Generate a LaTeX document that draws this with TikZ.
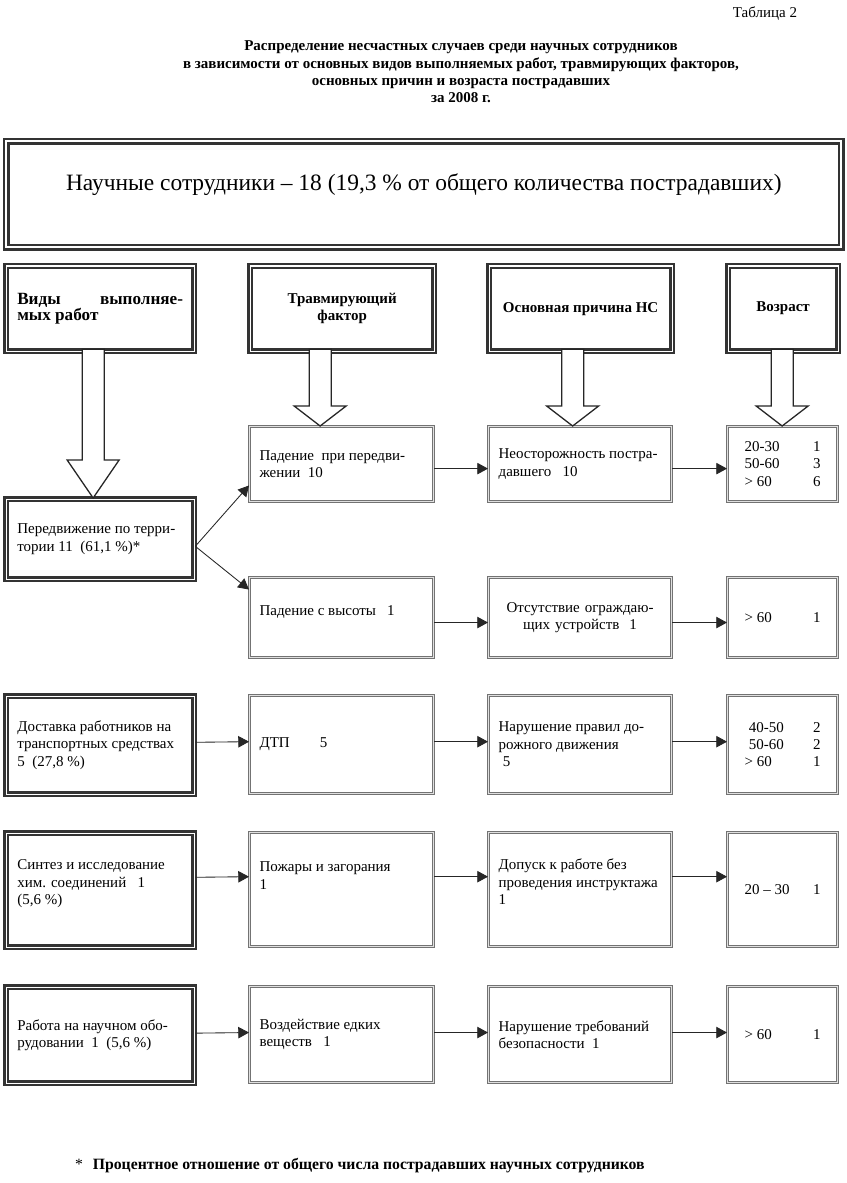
\documentclass[tikz,border=0pt]{standalone}
\usepackage{fontspec}
\setmainfont{Liberation Serif}
\usetikzlibrary{calc, positioning, arrows.meta}

\newcommand{\padbelow}[1]{\rule[-#1]{0pt}{0pt}}
\newcommand{\colfill}{\hspace{\stretch{1}}}
\newcommand{\hollowarrow}[3]{%
  \draw[hollow] (#1) ++(-11,0) -- ++(22,0) -- ($(#1 |- #2.north)+(11,-#3)$)
    -- ++(15,0) -- (#1 |- #2.north) -- ++(-26,-#3) -- ++(15,0) -- cycle;}

\tikzset{
  dims/.style 2 args={minimum width=#1*0.7pt, minimum height=#2*0.7pt},
  heavyframe/.style={draw=black!80, line width=1.6pt, double=white, double distance=0.9pt, fill=white},
  lightframe/.style={draw=black!55, line width=0.75pt, double=black!12, double distance=0.7pt, fill=white},
  boxtext/.style={font=\fontsize{10.5}{12.2}\selectfont, align=flush left, anchor=north west, inner ysep=0pt},
  hdrbox/.style={heavyframe, anchor=north west, font=\bfseries\fontsize{10.5}{12.2}\selectfont,
    align=center, dims={#1}{85}},
  workbox/.style={heavyframe, boxtext, dims={188}{#1}, text width=116pt, inner xsep=7.8pt},
  factbox/.style={lightframe, boxtext, dims={184}{#1}, text width=114.8pt, inner xsep=7pt},
  causebox/.style={lightframe, boxtext, dims={183}{#1}, text width=114pt, inner xsep=7pt},
  agebox/.style={lightframe, boxtext, dims={110}{#1}, text width=53.2pt, inner xsep=11.9pt},
  conn/.style={draw=black!85, line width=0.6pt, -{Triangle[length=7.5pt, width=8pt]}},
  hollow/.style={draw=black!85, line width=0.9pt, fill=white, line join=miter},
}

\begin{document}
\begin{tikzpicture}[x=0.7pt, y=-0.7pt]
  \fill[white] (0,0) rectangle (847,1183);
  \useasboundingbox (0,0) rectangle (847,1183);

  \node[font=\fontsize{10.5}{12}\selectfont] (tabno) at (765,14) {Таблица 2};
  \node[font=\bfseries\fontsize{10.5}{12.2}\selectfont, align=center] (title) at (461,72)
    {Распределение несчастных случаев среди научных сотрудников\\
     в зависимости от основных видов выполняемых работ, травмирующих факторов,\\
     основных причин и возраста пострадавших\\
     за 2008 г.};

  \node[heavyframe, line width=1.8pt, double distance=1.2pt, dims={835}{106}, anchor=north west,
    font=\fontsize{16.4}{19}\selectfont] (top) at (5,140)
    {Научные сотрудники – 18 (19,3~\% от общего количества пострадавших)\padbelow{17pt}};

  \node[hdrbox=188, text width=116pt, inner xsep=7.8pt, align=flush left,
    font=\bfseries\fontsize{12}{11.5}\selectfont] (h1) at (5,265) {Виды\colfill выполняе-\\мых работ};
  \node[hdrbox=184] (h2) at (249,265) {Травмирующий\\фактор};
  \node[hdrbox=183] (h3) at (488,265) {Основная причина НС};
  \node[hdrbox=110] (h4) at (727,265) {Возраст};

  \node[factbox=75] (f1) at (249,426) {Падение\ \ при передви-\\жении\ \ 10};
  \node[causebox=75] (c1) at (488,426) {Неосторожность постра-\\давшего\ \ \ 10};
  \node[agebox=75] (a1) at (727,426)
    {20-30\colfill 1\hspace*{2.5pt}\\50-60\colfill 3\hspace*{2.5pt}\\> 60\colfill 6};

  \node[workbox=80] (w1) at (5,498) {Передвижение по терри-\\тории 11\ \ (61,1~\%)*};
  \node[factbox=80] (f2) at (249,577) {Падение с высоты\ \ \ 1\padbelow{10pt}};
  \node[causebox=80, align=center] (c2) at (488,577) {Отсутствие ограждаю-\\щих устройств\ \ 1};
  \node[agebox=80] (a2) at (727,577) {> 60\colfill 1};

  \node[workbox=98] (w2) at (5,695) {Доставка работников на\\транспортных средствах\\5\ \ (27,8~\%)};
  \node[factbox=98] (f3) at (249,695) {ДТП\qquad 5};
  \node[causebox=98] (c3) at (488,695) {Нарушение правил до-\\рожного движения\\\hspace*{3pt}5};
  \node[agebox=98] (a3) at (727,695)
    {\hspace*{3pt}40-50\colfill 2\\\hspace*{3pt}50-60\colfill 2\\> 60\colfill 1};

  \node[workbox=114] (w3) at (5,832) {Синтез и исследование\\хим. соединений\ \ \ 1\\(5,6~\%)\padbelow{11pt}};
  \node[factbox=114] (f4) at (249,832) {Пожары и загорания\\1\padbelow{19.6pt}};
  \node[causebox=114] (c4) at (488,832) {Допуск к работе без\\проведения инструктажа\\1\padbelow{11pt}};
  \node[agebox=114] (a4) at (727,832) {20 – 30\colfill 1};

  \node[workbox=96] (w4) at (5,986) {Работа на научном обо-\\рудовании\ \ 1\ \ (5,6~\%)};
  \node[factbox=96] (f5) at (249,986) {Воздействие едких\\веществ\ \ \ 1};
  \node[causebox=96] (c5) at (488,986) {Нарушение требований\\безопасности\ \ 1};
  \node[agebox=96] (a5) at (727,986) {> 60\colfill 1};

  \coordinate (s1) at ($(h1.south)+(-7,-3)$);
  \coordinate (s2) at ($(h2.south)+(-22,-3)$);
  \coordinate (s3) at ($(h3.south)+(-8,-3)$);
  \coordinate (s4) at ($(h4.south)+(-1,-3)$);
  \hollowarrow{s1}{w1}{38}
  \hollowarrow{s2}{f1}{20}
  \hollowarrow{s3}{c1}{20}
  \hollowarrow{s4}{a1}{20}

  \draw[conn] ([yshift=-5pt]w1.east) -- ([yshift=-15pt]f1.west);
  \draw[conn] ([yshift=-5pt]w1.east) -- ([yshift=19.6pt]f2.west);
  \draw[conn] ([yshift=-3.2pt]f1.east) -- ([yshift=-3.2pt]c1.west);
  \draw[conn] ([yshift=-3.2pt]c1.east) -- ([yshift=-3.2pt]a1.west);
  \draw[conn] ([yshift=-3.5pt]f2.east) -- ([yshift=-3.5pt]c2.west);
  \draw[conn] ([yshift=-3.5pt]c2.east) -- ([yshift=-3.5pt]a2.west);
  \draw[conn] ([yshift=2pt]w2.east) -- ([yshift=2pt]f3.west);
  \draw[conn] ([yshift=2pt]f3.east) -- ([yshift=2pt]c3.west);
  \draw[conn] ([yshift=2pt]c3.east) -- ([yshift=2pt]a3.west);
  \draw[conn] ([yshift=9pt]w3.east) -- ([yshift=9pt]f4.west);
  \draw[conn] ([yshift=9pt]f4.east) -- ([yshift=9pt]c4.west);
  \draw[conn] ([yshift=9pt]c4.east) -- ([yshift=9pt]a4.west);
  \draw[conn] ([yshift=1.4pt]w4.east) -- ([yshift=1.4pt]f5.west);
  \draw[conn] ([yshift=1.4pt]f5.east) -- ([yshift=1.4pt]c5.west);
  \draw[conn] ([yshift=1.4pt]c5.east) -- ([yshift=1.4pt]a5.west);

  \node[anchor=west, font=\fontsize{11}{13}\selectfont] (note) at (70,1166)
    {*\hspace{7pt}\textbf{Процентное отношение от общего числа пострадавших научных сотрудников}};
\end{tikzpicture}
\end{document}
